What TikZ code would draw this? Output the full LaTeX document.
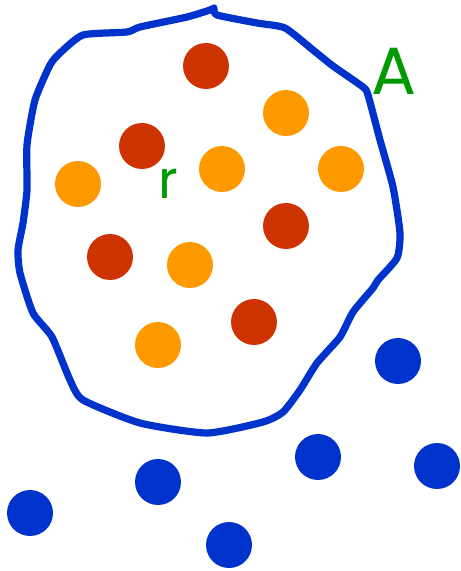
\documentclass[tikz,border=0pt]{standalone}
\usepackage{fontspec}
\newfontfamily\labelfont{Poppins}
\definecolor{setblue}{HTML}{0033CC}
\definecolor{inred}{HTML}{CC3300}
\definecolor{inorange}{HTML}{FF9900}
\definecolor{labelgreen}{HTML}{009900}
\tikzset{
    dot/.style={circle, inner sep=0pt, minimum size=0.92cm},
    reddot/.style={dot, fill=inred},
    orangedot/.style={dot, fill=inorange},
    bluedot/.style={dot, fill=setblue},
}
\begin{document}
\begin{tikzpicture}[x=0.02cm, y=-0.02cm]
    \useasboundingbox (0,0) rectangle (460,571);
    % Outline of the set A (hand-drawn look)
    \draw[setblue, line width=4.1pt, line join=round, line cap=round]
        plot[smooth, tension=0.35] coordinates {
        (214,8) (217,15) (257,23) (285,28) (313,50) (333,66)
        (363,87) (368,95) (380,140) (393,187) (400,233) (397,258)
        (378,280) (373,288) (353,312) (340,337) (317,363) (300,390)
        (283,412) (263,422) (207,433) (140,423) (83,400) (70,380)
        (52,337) (33,313) (20,273) (18,250) (23,223) (27,190) (27,145)
        (35,100) (50,65) (60,53) (83,35) (127,32) (140,27) (187,17)
        (210,10) (214,8)};
    % Points inside A
    \node[reddot] (r1) at (206,66) {};
    \node[reddot] (r2) at (142,146) {};
    \node[reddot] (r3) at (286,226) {};
    \node[reddot] (r4) at (110,257) {};
    \node[reddot] (r5) at (254,322) {};
    \node[orangedot] (o1) at (286,113) {};
    \node[orangedot] (o2) at (78,184) {};
    \node[orangedot] (o3) at (222,169) {};
    \node[orangedot] (o4) at (341,169) {};
    \node[orangedot] (o5) at (190,265) {};
    \node[orangedot] (o6) at (158,345) {};
    % Points outside A
    \node[bluedot] (b1) at (398,361) {};
    \node[bluedot] (b2) at (318,457) {};
    \node[bluedot] (b3) at (437,466) {};
    \node[bluedot] (b4) at (158,482) {};
    \node[bluedot] (b5) at (30,513) {};
    \node[bluedot] (b6) at (229,545) {};
    % Labels
    \node[labelgreen, inner sep=0pt, font=\labelfont\fontsize{38}{40}\selectfont]
        (setA) at (394,71) {A};
    \node[labelgreen, inner sep=0pt, font=\labelfont\fontsize{30}{32}\selectfont]
        (relr) at (168,184) {r};
\end{tikzpicture}
\end{document}
